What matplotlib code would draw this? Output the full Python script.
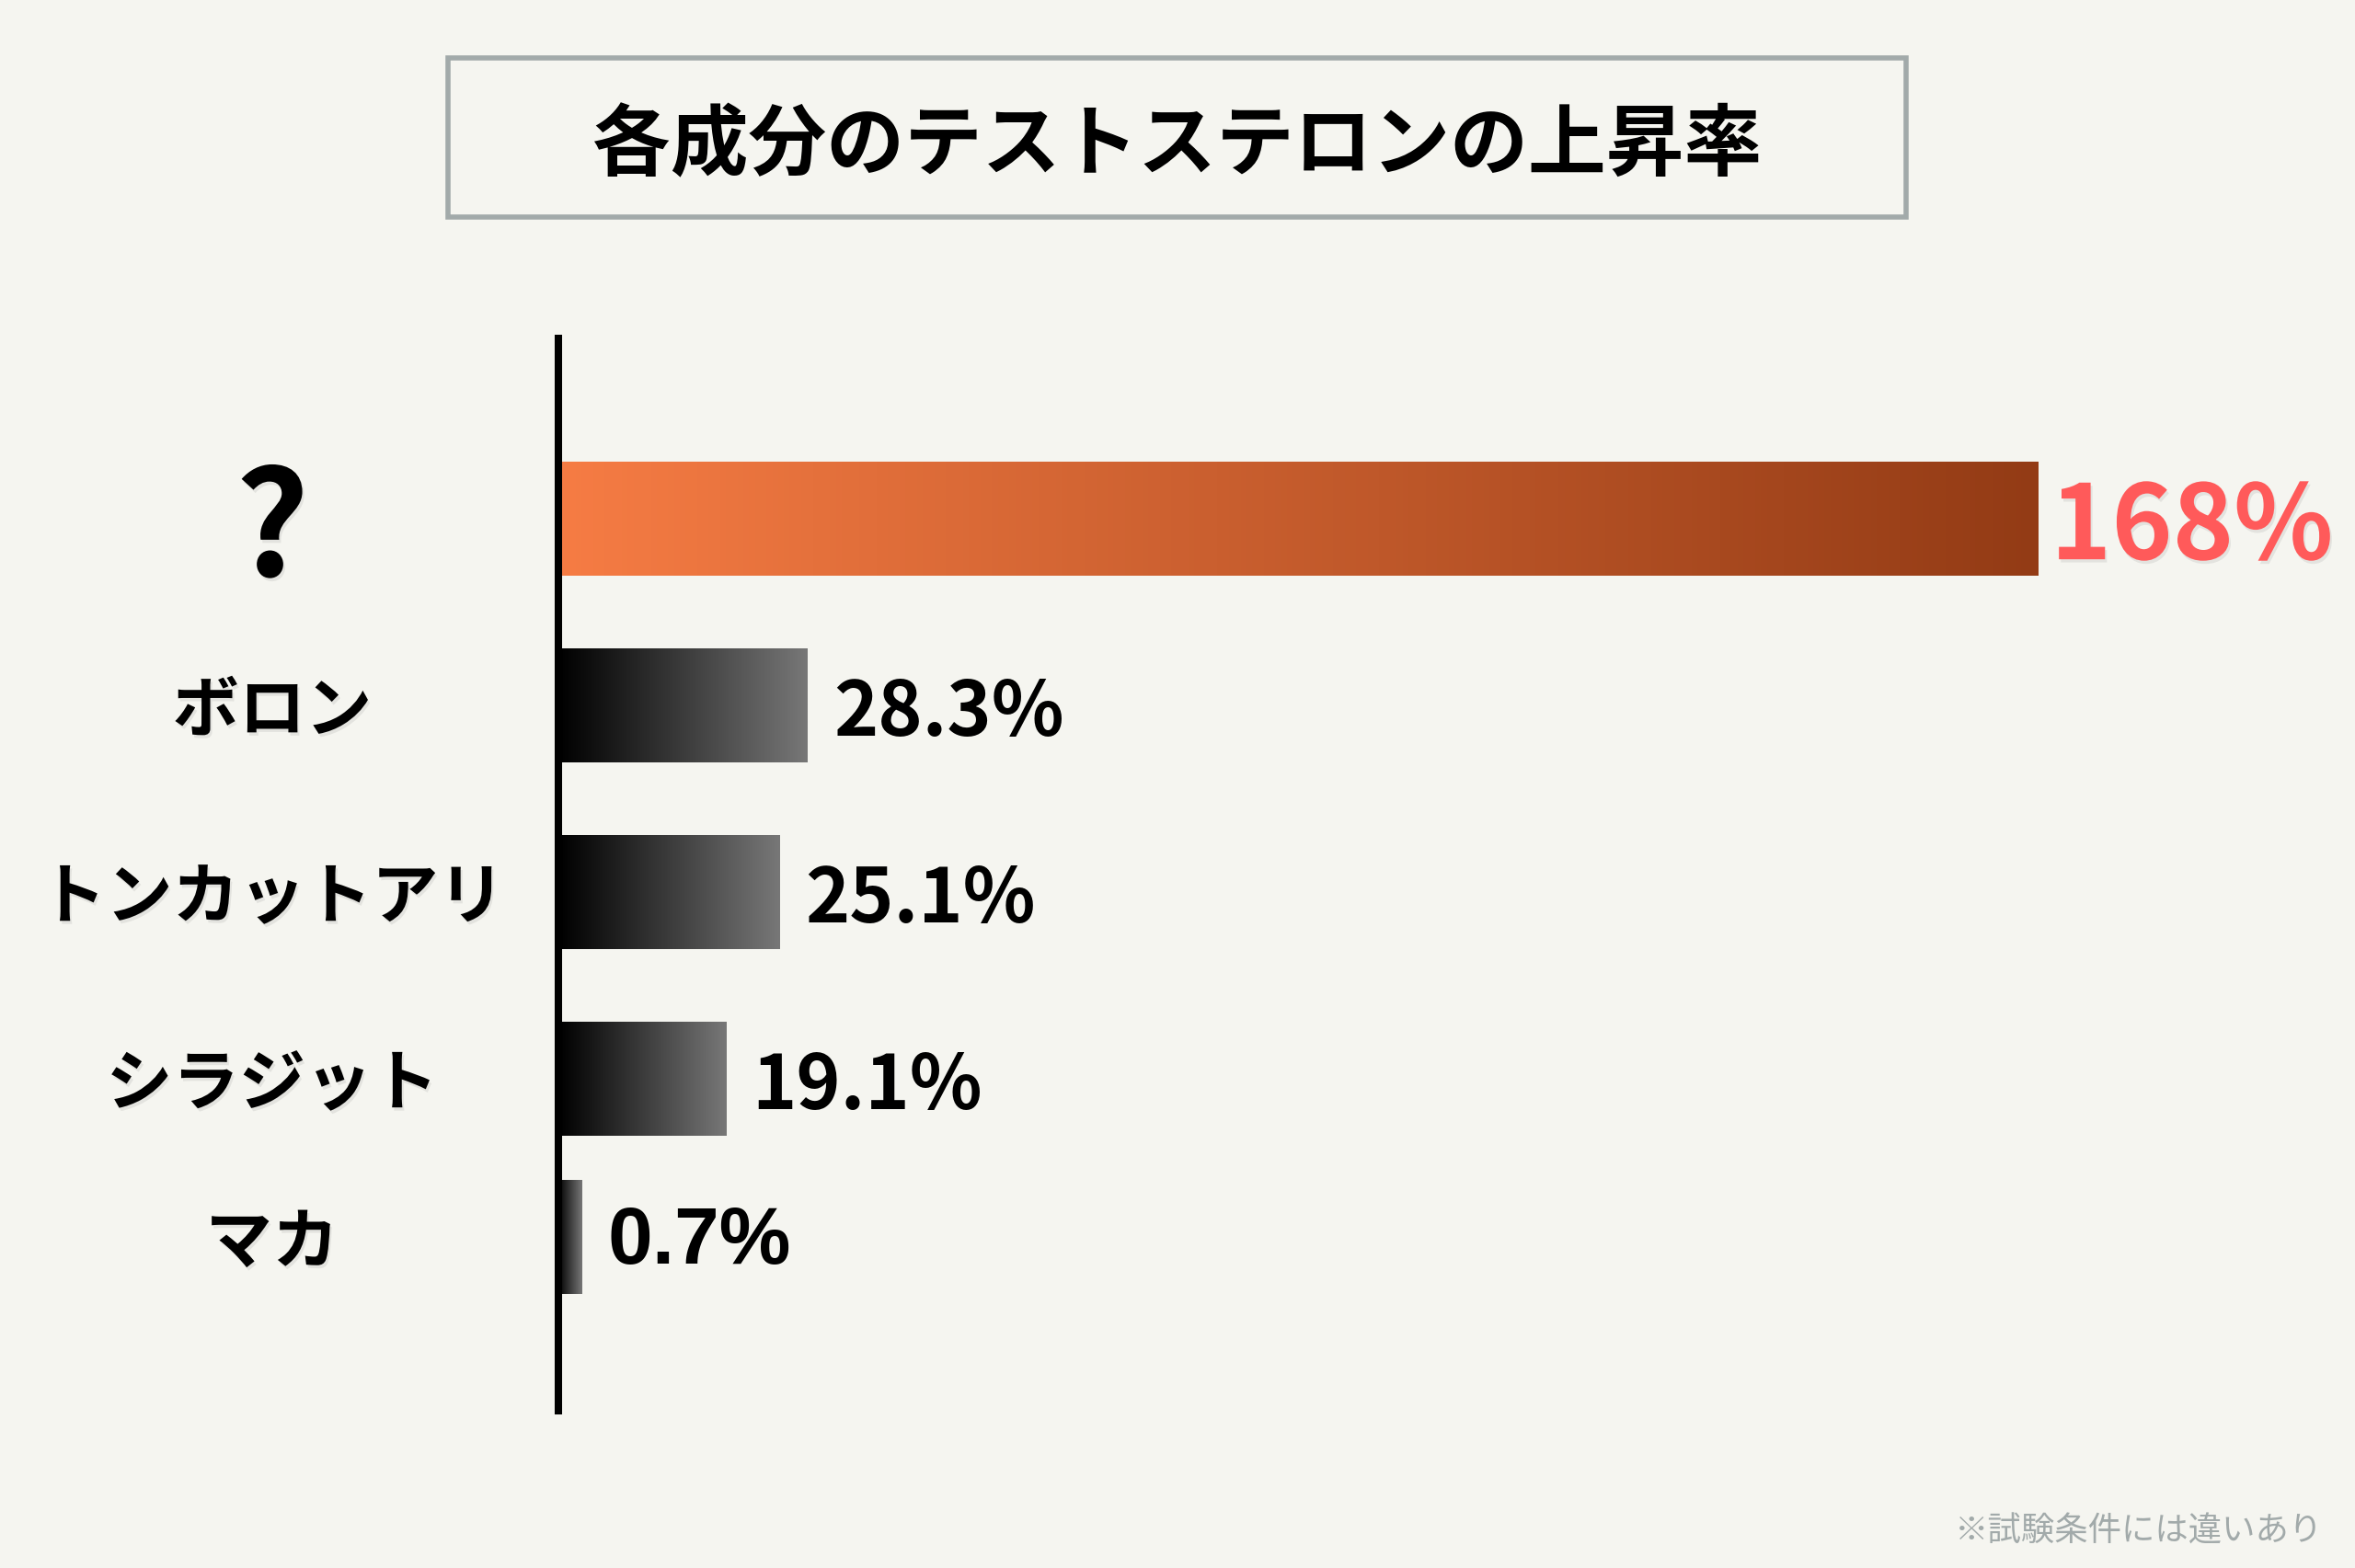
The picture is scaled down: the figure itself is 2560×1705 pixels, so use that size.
import matplotlib
matplotlib.use("Agg")
import matplotlib.pyplot as plt
import matplotlib.patheffects as pe
import numpy as np
from matplotlib.colors import LinearSegmentedColormap
from matplotlib.patches import Rectangle
from matplotlib.transforms import blended_transform_factory

# data
ingredients = ["?", "ボロン", "トンカットアリ", "シラジット", "マカ"]
increase_pct = [168, 28.3, 25.1, 19.1, 0.7]
value_labels = ["168%", "28.3%", "25.1%", "19.1%", "0.7%"]
title = "各成分のテストステロンの上昇率"
footnote = "※試験条件には違いあり"

BG = "#f5f5f0"
JP = ["Noto Sans CJK JP", "DejaVu Sans"]
HIGHLIGHT = LinearSegmentedColormap.from_list("hl", ["#f67c44", "#933b15"])
DARK = LinearSegmentedColormap.from_list("dk", ["#000000", "#777777"])

W, H = 2560, 1706
fig = plt.figure(figsize=(W / 100, H / 100), dpi=100, facecolor=BG)

# axes spans pixel x 607..2400, y 369..1535 (from top)
ax = fig.add_axes([607 / W, 1 - 1535 / H, (2400 - 607) / W, (1535 - 369) / H])
ax.set_facecolor(BG)

row_y = [0, 1, 2, 3, 3.85]   # layout: last row sits a bit closer
bar_h = 0.61
xmax = max(increase_pct) * 1.115
min_w = xmax * 0.0145        # keep tiny bars visible

shadow = [pe.SimplePatchShadow(offset=(1.5, -2.5), shadow_rgbFace="#000000", alpha=0.07),
          pe.Normal()]

vals = np.array(increase_pct, dtype=float)
disp = np.maximum(vals, min_w)
bars = ax.barh(row_y, disp, height=bar_h, color="none", edgecolor="none")
grad = np.linspace(0, 1, 256).reshape(1, -1)
for i, b in enumerate(bars):
    x0, y0 = b.get_x(), b.get_y()
    cmap = HIGHLIGHT if i == 0 else DARK
    im = ax.imshow(grad, cmap=cmap, aspect="auto",
                   extent=(x0, x0 + b.get_width(), y0 + b.get_height(), y0),
                   zorder=2)
    im.set_clip_path(b)

# value labels
for i, (w, lab) in enumerate(zip(disp, value_labels)):
    if i == 0:
        kw = dict(fontsize=81, color="#ff5a5a", family=JP, fontweight="bold",
                  path_effects=shadow)
        off = (10, -8)
    elif lab == "0.7%":
        kw = dict(fontsize=63, color="#000000", family=["Liberation Sans"],
                  fontweight="bold")
        off = (20, -4)
    else:
        kw = dict(fontsize=59, color="#000000", family=JP, fontweight="bold")
        off = (20, -6)
    ax.annotate(lab, (w, row_y[i]), xytext=off, textcoords="offset points",
                ha="left", va="center", **kw)

# category labels
trans = blended_transform_factory(ax.transAxes, ax.transData)
for i, name in enumerate(ingredients):
    if name == "?":
        size, dy = 113, -12
    else:
        size, dy = 52, -5
    ax.annotate(name, (-0.1735, row_y[i]), xycoords=trans, xytext=(0, dy),
                textcoords="offset points", ha="center", va="center",
                fontsize=size, fontweight="bold", family=JP, color="#000000",
                path_effects=shadow)

ax.set_xlim(0, xmax)
ax.set_ylim(4.78, -0.966)
for s in ("top", "right", "bottom"):
    ax.spines[s].set_visible(False)
ax.spines["left"].set_linewidth(5.8)
ax.spines["left"].set_color("#000000")
ax.set_xticks([])
ax.set_yticks([])

# title box
fig.patches.append(Rectangle((487 / W, 1 - 237 / H), (2072 - 487) / W, 173 / H,
                             transform=fig.transFigure, facecolor="none",
                             edgecolor="#a2aaaa", linewidth=4.0))
fig.text(1280 / W, 1 - 159 / H, title, ha="center", va="center", fontsize=61,
         fontweight="bold", family=JP, color="#000000")

fig.text(2525 / W, 1 - 1666 / H, footnote, ha="right", va="center", fontsize=26.2,
         family=JP, color="#a2aaaa")

fig.savefig("out.png", dpi=100, facecolor=BG)
